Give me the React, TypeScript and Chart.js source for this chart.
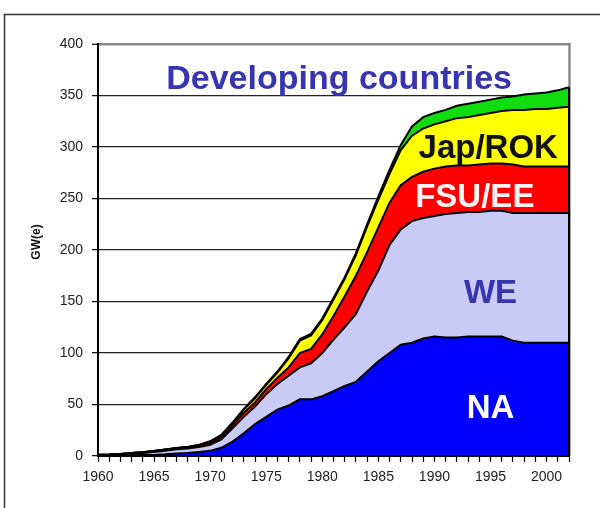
import { useEffect, useRef } from 'react';
import { Chart, registerables } from 'chart.js';

Chart.register(...registerables);

const years = [
  '1960', '1961', '1962', '1963', '1964', '1965', '1966', '1967', '1968', '1969',
  '1970', '1971', '1972', '1973', '1974', '1975', '1976', '1977', '1978', '1979',
  '1980', '1981', '1982', '1983', '1984', '1985', '1986', '1987', '1988', '1989',
  '1990', '1991', '1992', '1993', '1994', '1995', '1996', '1997', '1998', '1999',
  '2000', '2001', '2002',
];

const yTicks = [0, 50, 100, 150, 200, 250, 300, 350, 400];

// GW(e) per region, stacked bottom to top
const na = [
  0.3, 0.3, 0.6, 0.8, 1.0, 1.0, 1.6, 2.5, 2.8, 3.8,
  5, 8, 14, 22, 31, 38, 45, 49, 55, 55,
  58, 63, 68, 72, 82, 92, 100, 108, 110, 114,
  116, 115, 115, 116, 116, 116, 116, 112, 110, 110,
  110, 110, 110,
];
const we = [
  0.6, 0.8, 1.0, 1.5, 2.0, 3.0, 3.5, 4.0, 4.5, 5.0,
  6, 8, 13, 16, 17, 22, 25, 29, 31, 35,
  42, 50, 57, 66, 78, 88, 105, 112, 118, 117,
  117, 120, 121, 121, 121, 122, 122, 124, 126, 126,
  126, 126, 126,
];
const fsuEe = [
  0.3, 0.3, 0.4, 0.5, 0.6, 0.8, 1.0, 1.0, 1.2, 1.5,
  2, 2.5, 3, 4, 4, 5, 6, 8, 14, 14,
  18, 23, 30, 37, 38, 42, 41, 43, 43, 45,
  46, 46, 46, 45, 46, 46, 46, 47, 45, 45,
  45, 45, 45,
];
const japRok = [
  0, 0, 0, 0.1, 0.1, 0.1, 0.2, 0.2, 0.2, 0.3,
  1, 1.5, 2, 3, 4, 4, 5, 9, 12, 13,
  14, 16, 17, 20, 25, 27, 28, 34, 40, 42,
  43, 44, 46, 47, 48, 49, 51, 53, 55, 56,
  56, 57, 58,
];
const developing = [
  0, 0, 0, 0, 0, 0, 0, 0, 0, 0.1,
  0.3, 0.5, 0.5, 0.8, 1, 1, 1, 1.2, 1.5, 1.5,
  1.5, 1.5, 1.5, 2, 2, 3, 4, 5, 9, 11,
  11, 11, 12, 13, 13, 13, 13, 13, 15, 15,
  16, 17, 19,
];

const seriesNames = ['NA', 'WE', 'FSU/EE', 'Jap/ROK', 'Developing countries'];
const seriesColors = ['#0000FF', '#CACAF6', '#FF0000', '#FFFF00', '#10DD10'];

const FONT = '"Liberation Sans", Arial, Helvetica, sans-serif';

// in-chart labels: x in category index units, y in data units (baseline)
const areaLabels = [
  { text: 'Developing countries', x: 21.5, y: 356, color: '#3535B0', size: 34 },
  { text: 'Jap/ROK', x: 34.8, y: 289, color: '#111111', size: 33 },
  { text: 'FSU/EE', x: 33.6, y: 242, color: '#FFF2F2', size: 33 },
  { text: 'WE', x: 35.0, y: 148.5, color: '#3535B0', size: 33 },
  { text: 'NA', x: 35.0, y: 37, color: '#FFFFFF', size: 33 },
];

const decorPlugin = {
  id: 'decor',
  beforeDraw(chart: any) {
    const ctx = chart.ctx;
    ctx.save();
    ctx.fillStyle = '#FFFFFF';
    ctx.fillRect(0, 0, chart.width, chart.height);
    ctx.strokeStyle = '#333333';
    ctx.lineWidth = 1.5;
    ctx.beginPath();
    ctx.moveTo(4.5, chart.height + 2);
    ctx.lineTo(4.5, 14.5);
    ctx.lineTo(chart.width + 2, 14.5);
    ctx.stroke();
    ctx.restore();
  },
  beforeDatasetsDraw(chart: any) {
    const { ctx, chartArea } = chart;
    ctx.save();
    ctx.strokeStyle = '#888888';
    ctx.lineWidth = 2.5;
    ctx.beginPath();
    ctx.moveTo(chartArea.right + 0.5, chartArea.top - 1);
    ctx.lineTo(chartArea.right + 0.5, chartArea.bottom);
    ctx.stroke();
    ctx.restore();
  },
  afterDatasetsDraw(chart: any) {
    const { ctx, chartArea, scales } = chart;
    const lastMeta = chart.getDatasetMeta(chart.data.datasets.length - 1);
    const lastPt = lastMeta.data[lastMeta.data.length - 1];
    ctx.save();
    ctx.strokeStyle = '#000000';
    ctx.lineWidth = 2;
    ctx.beginPath();
    ctx.moveTo(chartArea.right, lastPt.y);
    ctx.lineTo(chartArea.right, chartArea.bottom);
    ctx.stroke();
    ctx.beginPath();
    ctx.moveTo(chartArea.left, chartArea.top);
    ctx.lineTo(chartArea.left, chartArea.bottom);
    ctx.lineTo(chartArea.right + 1, chartArea.bottom);
    ctx.stroke();

    ctx.textAlign = 'center';
    ctx.textBaseline = 'alphabetic';
    for (const l of areaLabels) {
      ctx.font = `bold ${l.size}px ${FONT}`;
      ctx.fillStyle = l.color;
      ctx.fillText(l.text, scales.x.getPixelForValue(l.x), scales.y.getPixelForValue(l.y));
    }

    ctx.translate(chartArea.left - 61, (chartArea.top + chartArea.bottom) / 2 - 8);
    ctx.rotate(-Math.PI / 2);
    ctx.font = `bold 12px ${FONT}`;
    ctx.fillStyle = '#111111';
    ctx.textBaseline = 'middle';
    ctx.fillText('GW(e)', 0, 0);
    ctx.restore();
  },
};

export default function App() {
  const ref = useRef<HTMLCanvasElement | null>(null);

  useEffect(() => {
    if (!ref.current) return;
    const values = [na, we, fsuEe, japRok, developing];
    const chart = new Chart(ref.current, {
      type: 'line',
      data: {
        labels: years,
        datasets: values.map((v, i) => ({
          label: seriesNames[i],
          data: v,
          backgroundColor: seriesColors[i],
          borderColor: '#000000',
          borderWidth: 2,
          fill: i === 0 ? 'origin' : '-1',
          pointRadius: 0,
          tension: 0,
        })),
      },
      options: {
        responsive: false,
        animation: false,
        layout: { padding: { left: 0, top: 44, right: 31, bottom: 0 } },
        plugins: {
          legend: { display: false },
          tooltip: { enabled: false },
          title: { display: false },
        },
        scales: {
          x: {
            type: 'category',
            stacked: true,
            offset: false,
            afterFit: (s: any) => {
              s.height = 52;
            },
            grid: {
              display: true,
              drawOnChartArea: false,
              drawTicks: true,
              tickLength: 6,
              tickColor: '#000000',
              tickWidth: 1.2,
            },
            border: { display: true, color: '#000000', width: 2 },
            ticks: {
              autoSkip: false,
              maxRotation: 0,
              minRotation: 0,
              padding: 7,
              color: '#222222',
              font: { family: FONT, size: 14 },
              callback: (_v: any, idx: number) => (Number(years[idx]) % 5 === 0 ? years[idx] : ''),
            },
          },
          y: {
            stacked: true,
            min: yTicks[0],
            max: yTicks[yTicks.length - 1],
            afterFit: (s: any) => {
              s.width = 98;
            },
            afterBuildTicks: (s: any) => {
              s.ticks = yTicks.map((v) => ({ value: v }));
            },
            grid: {
              color: (c: any) => (c.tick && c.tick.value === 400 ? '#888888' : '#222222'),
              lineWidth: (c: any) => (c.tick && c.tick.value === 400 ? 2.5 : 1.3),
              drawTicks: true,
              tickLength: 6,
              tickColor: '#000000',
              tickWidth: 1.2,
            },
            border: { display: true, color: '#000000', width: 2 },
            ticks: {
              padding: 9,
              color: '#222222',
              font: { family: FONT, size: 14 },
            },
          },
        },
      },
      plugins: [decorPlugin],
    });
    return () => chart.destroy();
  }, []);

  return (
    <div style={{ position: 'absolute', left: 0, top: 0, width: 600, height: 508, overflow: 'hidden' }}>
      <canvas ref={ref} width={600} height={508} style={{ display: 'block' }} />
    </div>
  );
}
